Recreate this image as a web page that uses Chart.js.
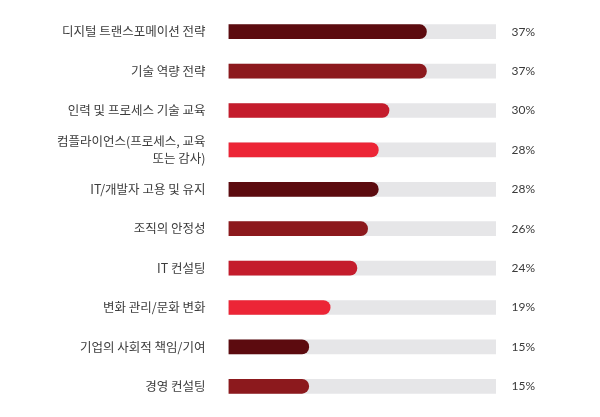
<!DOCTYPE html>
<html>
<head>
<meta charset="utf-8">
<style>
  html, body { margin: 0; padding: 0; background: #ffffff; }
  #wrap { width: 600px; height: 417px; position: relative; }
</style>
<script src="https://cdn.jsdelivr.net/npm/chart.js"></script>
</head>
<body>
<div id="wrap"><canvas id="skillsChart"></canvas></div>
<script>
  // chart data
  const categories = [
    '디지털 트랜스포메이션 전략',
    '기술 역량 전략',
    '인력 및 프로세스 기술 교육',
    ['컴플라이언스(프로세스, 교육', '또는 감사)'],
    'IT/개발자 고용 및 유지',
    '조직의 안정성',
    'IT 컨설팅',
    '변화 관리/문화 변화',
    '기업의 사회적 책임/기여',
    '경영 컨설팅'
  ];
  const percentValues = [37, 37, 30, 28, 28, 26, 24, 19, 15, 15];
  const trackValues = [50, 50, 50, 50, 50, 50, 50, 50, 50, 50];
  const axisMax = 50;

  const barColors = ['#5c0b0f', '#8c191d', '#c41c2c', '#ec2536'];

  // draws "37%" etc to the right of the grey track
  const percentLabels = {
    id: 'percentLabels',
    afterDatasetsDraw(chart) {
      const ctx = chart.ctx;
      const meta = chart.getDatasetMeta(0);
      ctx.save();
      ctx.font = '12px Lato, "Open Sans", sans-serif';
      ctx.fillStyle = '#3a3a3a';
      ctx.textAlign = 'right';
      ctx.textBaseline = 'middle';
      meta.data.forEach((bar, i) => {
        ctx.fillText(percentValues[i] + '%', 535, bar.y);
      });
      ctx.restore();
    }
  };

  const ctx = document.getElementById('skillsChart').getContext('2d');
  new Chart(ctx, {
    type: 'bar',
    data: {
      labels: categories,
      datasets: [
        {
          label: 'value',
          data: percentValues,
          backgroundColor: categories.map((c, i) => barColors[i % barColors.length]),
          borderRadius: 7,
          barThickness: 14,
          grouped: false
        },
        {
          label: 'track',
          data: trackValues,
          backgroundColor: '#e6e6e8',
          barThickness: 14,
          grouped: false
        }
      ]
    },
    options: {
      indexAxis: 'y',
      responsive: true,
      maintainAspectRatio: false,
      animation: false,
      layout: { padding: { left: 0, right: 104, top: 12, bottom: 11 } },
      plugins: {
        legend: { display: false },
        tooltip: { enabled: false }
      },
      scales: {
        x: {
          display: false,
          min: 0,
          max: axisMax
        },
        y: {
          grid: { display: false, drawTicks: true, tickLength: 23 },
          border: { display: false },
          afterFit: scale => { scale.width = 228.5; },
          ticks: {
            padding: 0,
            color: '#3c3c3c',
            font: { family: '"Noto Sans CJK KR", sans-serif', size: 12.5, lineHeight: 1.4 }
          }
        }
      }
    },
    plugins: [percentLabels]
  });
</script>
</body>
</html>
